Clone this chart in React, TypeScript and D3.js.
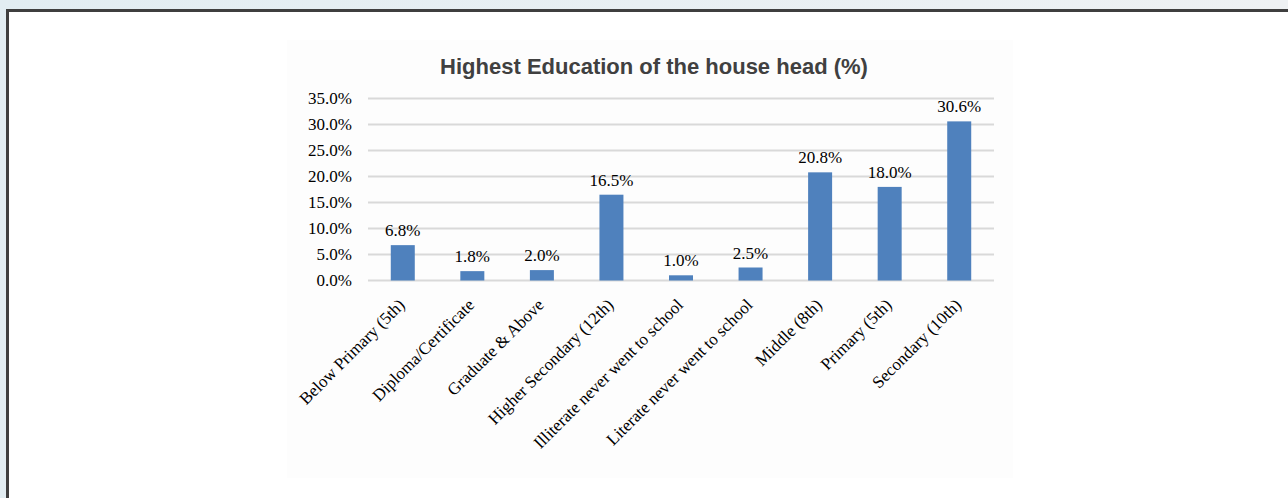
import React from "react";
import * as d3 from "d3";

const categories = [
  "Below Primary (5th)",
  "Diploma/Certificate",
  "Graduate & Above",
  "Higher Secondary (12th)",
  "Illiterate never went to school",
  "Literate never went to school",
  "Middle (8th)",
  "Primary (5th)",
  "Secondary (10th)",
];
const values = [6.8, 1.8, 2.0, 16.5, 1.0, 2.5, 20.8, 18.0, 30.6];
const yTicks = [0, 5, 10, 15, 20, 25, 30, 35];
const title = "Highest Education of the house head (%)";

const W = 1288;
const H = 498;
const plot = { left: 368, right: 994, top: 98.5, bottom: 280.5 };

export default function App() {
  const x = d3
    .scaleBand<string>()
    .domain(categories)
    .range([plot.left, plot.right])
    .paddingInner(0.655)
    .paddingOuter(0.3275);
  const y = d3.scaleLinear().domain([0, 35]).range([plot.bottom, plot.top]);
  const serif = "'Liberation Serif', 'Times New Roman', serif";
  const sans = "'Liberation Sans', Arial, sans-serif";
  return (
    <div style={{ position: "fixed", left: 0, top: 0 }}>
      <svg width={W} height={H} style={{ display: "block" }}>
        <defs>
          <linearGradient id="bg" x1="0" x2="1" y1="0" y2="0">
            <stop offset="0" stopColor="#e2edf2" />
            <stop offset="1" stopColor="#eef1f3" />
          </linearGradient>
        </defs>
        <rect x={0} y={0} width={W} height={H} fill="url(#bg)" />
        <rect x={7.5} y={10.5} width={W + 20} height={H + 20} fill="#ffffff" stroke="#3f3f3f" strokeWidth={3} />
        <rect x={287} y={40} width={726} height={438} fill="#fdfdfd" />
        <text x={654} y={74} textAnchor="middle" fontFamily={sans} fontWeight="bold" fontSize={22} fill="#404040">
          {title}
        </text>
        {yTicks.map((t) => (
          <g key={t}>
            <line x1={plot.left} x2={plot.right} y1={y(t)} y2={y(t)} stroke="#d9d9d9" strokeWidth={2} />
            <text x={352} y={y(t) + 5.5} textAnchor="end" fontFamily={serif} fontSize={17} fill="#000">
              {t.toFixed(1) + "%"}
            </text>
          </g>
        ))}
        {categories.map((c, i) => {
          const bx = x(c) as number;
          const bw = x.bandwidth();
          const cx = bx + bw / 2;
          return (
            <g key={c}>
              <rect x={bx} y={y(values[i])} width={bw} height={y(0) - y(values[i])} fill="#4f81bd" />
              <text x={cx} y={y(values[i]) - 9} textAnchor="middle" fontFamily={serif} fontSize={17} fill="#000">
                {values[i].toFixed(1) + "%"}
              </text>
              <text
                transform={`translate(${cx + 3},${306}) rotate(-45)`}
                textAnchor="end"
                fontFamily={serif}
                fontSize={17}
                fill="#000"
              >
                {c}
              </text>
            </g>
          );
        })}
      </svg>
    </div>
  );
}
